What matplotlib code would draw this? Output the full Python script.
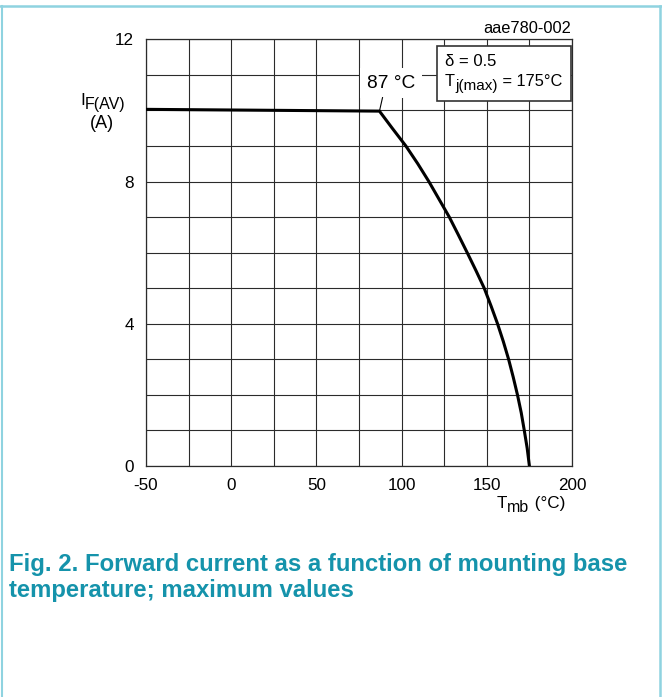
import numpy as np
import matplotlib
matplotlib.use('Agg')
import matplotlib.pyplot as plt
from matplotlib.patches import Rectangle
from matplotlib.lines import Line2D

plt.rcParams['font.family'] = ['Liberation Sans', 'DejaVu Sans']

# Curve (mounting base temperature vs max forward current)
t_mb = [-50, 87, 94.5, 102.5, 109.5, 116, 122, 128, 133.3, 138.5, 143.6, 148.5,
        152.5, 156.3, 159.7, 162.8, 165.5, 168, 170.2, 172, 173.7, 175]
i_fav = [10.03, 9.98, 9.5, 9.0, 8.5, 8.0, 7.5, 7.0, 6.5, 6.0, 5.5, 5.0,
         4.5, 4.0, 3.5, 3.0, 2.5, 2.0, 1.5, 1.0, 0.5, 0.0]

x_ticks = [-50, -25, 0, 25, 50, 75, 100, 125, 150, 175, 200]
x_labels = ['-50', '', '0', '', '50', '', '100', '', '150', '', '200']
y_ticks = list(range(0, 13))
y_labels = ['0', '', '', '', '4', '', '', '', '8', '', '', '', '12']

W, H = 662, 697
fig = plt.figure(figsize=(W / 100, H / 100), dpi=100)
ax = fig.add_axes([146 / W, 1 - 466 / H, 426 / W, 426.7 / H])
renderer = fig.canvas.get_renderer()


def sub_label(x_px, y_px, base, sub, tail='', size=12, sub_size=11, drop=4, ha='left', zorder=7):
    """Text with a large subscript, placed in figure pixel coords (y from the top)."""
    parts = [(base, size, 0), (sub, sub_size, drop), (tail, size, 0)]
    # measure total width first
    widths = []
    for s, fs, _ in parts:
        if not s:
            widths.append(0)
            continue
        t = fig.text(0, 0, s, fontsize=fs)
        widths.append(t.get_window_extent(renderer).width)
        t.remove()
    x = x_px - (sum(widths) / 2 if ha == 'center' else 0)
    for (s, fs, dy), w in zip(parts, widths):
        if s:
            fig.text(x / W, 1 - (y_px + dy) / H, s, fontsize=fs, ha='left', va='baseline', zorder=zorder)
        x += w


grid_col = '#2b2b2b'
ax.set_xlim(-50, 200)
ax.set_ylim(0, 12)
ax.set_xticks(x_ticks)
ax.set_xticklabels(x_labels)
ax.set_yticks(y_ticks)
ax.set_yticklabels(y_labels)
ax.tick_params(length=0, pad=8.5, labelsize=12.3, colors='black')
ax.grid(True, color=grid_col, linewidth=0.8)
for s in ax.spines.values():
    s.set_color(grid_col)
    s.set_linewidth(0.9)

# main curve
ax.plot(t_mb, i_fav, color='black', linewidth=2.2, solid_joinstyle='miter', zorder=5)

# kink annotation
ax.text(93.6, 10.77, '87 °C', ha='center', va='center', fontsize=13.8, zorder=6,
        bbox=dict(facecolor='white', edgecolor='none', pad=5))
ax.plot([88.8, 87], [10.36, 9.98], color='black', linewidth=0.8, zorder=6)

# condition box
ax.add_patch(Rectangle((120.8, 10.27), 78.4, 1.55, facecolor='white',
                       edgecolor='#333333', linewidth=1.2, zorder=6))
ax.text(125.5, 11.24, 'δ = 0.5', ha='left', va='baseline', fontsize=12, zorder=7)
sub_label(445, 86, 'T', 'j(max)', ' = 175°C', size=11.8, sub_size=11, drop=4)

# diagram code
fig.text(571 / W, 1 - 33 / H, 'aae780-002', ha='right', va='baseline', fontsize=11.8)

# axis labels
sub_label(80, 105, 'I', 'F(AV)', '', size=12.3, sub_size=11.5, drop=4)
fig.text(102 / W, 1 - 128 / H, '(A)', ha='center', va='baseline', fontsize=13)
sub_label(497, 508, 'T', 'mb', ' (°C)', size=12.3, sub_size=11.5, drop=4)

# caption
cap_col = '#1593ab'
fig.text(9 / W, 1 - 571 / H, 'Fig. 2. Forward current as a function of mounting base',
         ha='left', va='baseline', fontsize=17.2, fontweight='bold', color=cap_col)
fig.text(9 / W, 1 - 597 / H, 'temperature; maximum values',
         ha='left', va='baseline', fontsize=17.2, fontweight='bold', color=cap_col)

# frame around the figure (no bottom edge)
border = '#8fd3e0'
fig.add_artist(Line2D([0, 1], [1 - 6 / H, 1 - 6 / H], transform=fig.transFigure, color=border, linewidth=1.8))
fig.add_artist(Line2D([1.5 / W, 1.5 / W], [0, 1 - 6 / H], transform=fig.transFigure, color=border, linewidth=1.5))
fig.add_artist(Line2D([660 / W, 660 / W], [0, 1 - 6 / H], transform=fig.transFigure, color=border, linewidth=1.8))

fig.savefig('out.png', dpi=100)
